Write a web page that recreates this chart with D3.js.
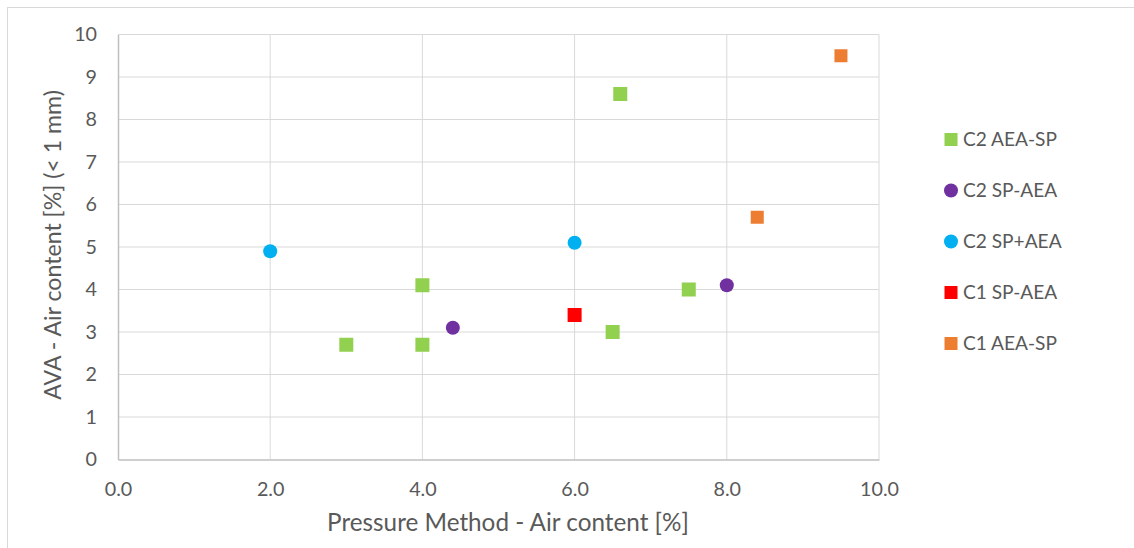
<!DOCTYPE html>
<html><head><meta charset="utf-8">
<script src="https://cdn.jsdelivr.net/npm/d3@7"></script>
<style>body{margin:0;background:#fff}svg{display:block;font-family:Lato,'Open Sans',sans-serif}</style>
</head><body><svg id="c" width="1134" height="548"></svg>
<script>
const seriesNames = ["C2 AEA-SP","C2 SP-AEA","C2 SP+AEA","C1 SP-AEA","C1 AEA-SP"];
const seriesColors = ["#92d050","#7030a0","#00b0f0","#ff0000","#ed7d31"];
const seriesShapes = ["square","circle","circle","square","square"];
const seriesSizes = [14,14,14,14,13];
const c2AeaSpX = [3.0,4.0,4.0,6.5,7.5,6.6];
const c2AeaSpY = [2.7,2.7,4.1,3.0,4.0,8.6];
const c2SpAeaX = [4.4,8.0];
const c2SpAeaY = [3.1,4.1];
const c2SpPlusAeaX = [2.0,6.0];
const c2SpPlusAeaY = [4.9,5.1];
const c1SpAeaX = [6.0];
const c1SpAeaY = [3.4];
const c1AeaSpX = [8.4,9.5];
const c1AeaSpY = [5.7,9.5];
const xTicks = [0,2,4,6,8,10];
const yTicks = [0,1,2,3,4,5,6,7,8,9,10];
const xTitle = "Pressure Method - Air content [%]";
const yTitle = "AVA - Air content [%] (< 1 mm)";

const seriesX = [c2AeaSpX,c2SpAeaX,c2SpPlusAeaX,c1SpAeaX,c1AeaSpX];
const seriesY = [c2AeaSpY,c2SpAeaY,c2SpPlusAeaY,c1SpAeaY,c1AeaSpY];

const svg = d3.select("#c");
const L=118, R=879, T=34.5, B=459.5;
const x = d3.scaleLinear().domain([0,10]).range([L,R]);
const y = d3.scaleLinear().domain([0,10]).range([B,T]);
const txt = "#595959";

// fit a font size so a sample string reaches a target width
function fitSize(str, target){
  const t = svg.append("text").style("font-size","20px").text(str);
  const w = t.node().getComputedTextLength();
  t.remove();
  return 20*target/w;
}
const tickSize = fitSize("10.0", 39);
const xTitleSize = fitSize(xTitle, 362);
const yTitleSize = fitSize(yTitle, 310);
const legSize = fitSize("C2 AEA-SP", 94);

svg.append("rect").attr("x",7.5).attr("y",7.5).attr("width",1140).attr("height",560)
  .attr("fill","#fff").attr("stroke","#d9d9d9");

// gridlines
svg.append("g").selectAll("line").data(yTicks.filter(d=>d>0)).join("line")
  .attr("x1",L).attr("x2",R).attr("y1",d=>y(d)).attr("y2",d=>y(d))
  .attr("stroke","#d9d9d9").attr("stroke-width",1);
svg.append("g").selectAll("line").data(xTicks.filter(d=>d>0)).join("line")
  .attr("y1",T).attr("y2",B).attr("x1",d=>x(d)).attr("x2",d=>x(d))
  .attr("stroke","#d9d9d9").attr("stroke-width",1);

// axes
const xAxis = svg.append("g").attr("transform",`translate(0,${B})`)
  .call(d3.axisBottom(x).tickValues(xTicks).tickFormat(d3.format(".1f")).tickSize(0).tickPadding(22));
const yAxis = svg.append("g").attr("transform",`translate(${L},0)`)
  .call(d3.axisLeft(y).tickValues(yTicks).tickFormat(d3.format("d")).tickSize(0).tickPadding(21));
[xAxis,yAxis].forEach(a=>{
  a.select(".domain").attr("stroke","#bfbfbf").attr("stroke-width",1.5);
  a.selectAll("text").attr("fill",txt).style("font-size",tickSize+"px").style("font-family","Lato,'Open Sans',sans-serif");
});

// titles
svg.append("text").attr("x",508).attr("y",531).attr("text-anchor","middle")
  .attr("fill",txt).style("font-size",xTitleSize+"px").text(xTitle);
svg.append("text").attr("transform",`translate(61,245) rotate(-90)`).attr("text-anchor","middle")
  .attr("fill",txt).style("font-size",yTitleSize+"px").text(yTitle);

// points
function drawMarker(g, shape, size, color){
  if(shape==="square"){
    g.append("rect").attr("x",-size/2).attr("y",-size/2).attr("width",size).attr("height",size).attr("fill",color);
  } else {
    g.append("circle").attr("r",size/2).attr("fill",color);
  }
}
seriesNames.forEach((name,i)=>{
  const g = svg.append("g");
  seriesX[i].forEach((v,j)=>{
    const m = g.append("g").attr("transform",`translate(${x(v)},${y(seriesY[i][j])})`);
    drawMarker(m, seriesShapes[i], seriesSizes[i], seriesColors[i]);
  });
});

// legend
const legY = d3.scaleLinear().domain([0,4]).range([139.5,343.5]);
seriesNames.forEach((name,i)=>{
  const g = svg.append("g").attr("transform",`translate(951,${legY(i)})`);
  drawMarker(g, seriesShapes[i], seriesShapes[i]==="circle"?14:13, seriesColors[i]);
  g.append("text").attr("x",12).attr("y",0).attr("dy","0.35em").attr("fill",txt)
    .style("font-size",legSize+"px").text(name);
});
</script></body></html>
